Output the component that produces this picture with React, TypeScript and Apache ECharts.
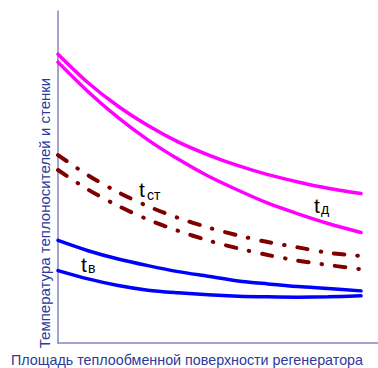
import React, { useEffect, useRef } from "react";
import * as echarts from "echarts";

const xs = [0, 9.4, 18.8, 28.1, 37.5, 46.9, 56.3, 65.6, 75, 84.4, 94.7];
const gasUpper = [87.0, 78.4, 71.3, 65.5, 60.6, 56.7, 53.4, 50.7, 48.5, 46.6, 45.0];
const gasLower = [84.6, 75.7, 67.9, 61.2, 55.4, 50.3, 46.0, 42.1, 38.9, 36.0, 33.3];
const wallUpper = [56.6, 50.5, 45.4, 41.2, 37.7, 34.8, 32.4, 30.4, 28.8, 27.2, 26.2];
const wallLower = [52.1, 46.2, 41.3, 37.2, 33.8, 30.9, 28.5, 26.5, 24.8, 23.5, 22.2];
const airUpper = [30.9, 27.8, 25.3, 23.3, 21.5, 20.1, 18.7, 17.8, 17.0, 16.4, 15.7];
const airLower = [21.8, 19.3, 17.3, 15.9, 15.1, 14.5, 14.1, 13.9, 13.8, 13.9, 14.2];

const xTitle = "Площадь теплообменной поверхности регенератора";
const yTitle = "Температура теплоносителей и стенки";

const pair = (x: number[], y: number[]) => x.map((v, i) => [v, y[i]]);
const FONT = "Arial, 'Liberation Sans', sans-serif";

export default function App() {
  const ref = useRef<HTMLDivElement>(null);
  useEffect(() => {
    const chart = echarts.init(ref.current!, null, { renderer: "svg" });
    const solid = (data: number[][], color: string) => ({
      type: "line",
      data,
      smooth: 0.3,
      symbol: "none",
      lineStyle: { color, width: 3.5, cap: "round" },
    });
    const dashdot = (data: number[][]) => ({
      type: "line",
      data,
      smooth: 0.3,
      symbol: "none",
      lineStyle: { color: "#800000", width: 4, type: [10.5, 13, 0.5, 13], cap: "round" },
    });
    const txt = (x: number, y: number, text: string, size: number) => ({
      type: "text",
      x,
      y,
      style: { text, font: `${size}px ${FONT}`, fill: "#000", align: "left", verticalAlign: "middle" },
    });
    chart.setOption({
      animation: false,
      grid: { left: 58, right: 0, top: 11, bottom: 25 },
      xAxis: {
        type: "value",
        min: 0,
        max: 100,
        axisLine: { lineStyle: { color: "#8585c2", width: 1.5 } },
        axisTick: { show: false },
        axisLabel: { show: false },
        splitLine: { show: false },
      },
      yAxis: {
        type: "value",
        min: 0,
        max: 100,
        axisLine: { show: true, lineStyle: { color: "#8585c2", width: 1.5 } },
        axisTick: { show: false },
        axisLabel: { show: false },
        splitLine: { show: false },
      },
      series: [
        solid(pair(xs, gasUpper), "#ff00ff"),
        solid(pair(xs, gasLower), "#ff00ff"),
        dashdot(pair(xs, wallUpper)),
        dashdot(pair(xs, wallLower)),
        solid(pair(xs, airUpper), "#0000ff"),
        solid(pair(xs, airLower), "#0000ff"),
      ],
      graphic: [
        {
          type: "text",
          x: 187,
          y: 360,
          style: {
            text: xTitle,
            font: `14.3px ${FONT}`,
            fill: "#2b3a9b",
            align: "center",
            verticalAlign: "middle",
          },
        },
        {
          type: "text",
          x: 44,
          y: 213,
          rotation: Math.PI / 2,
          style: {
            text: yTitle,
            font: `15px ${FONT}`,
            fill: "#2b3a9b",
            align: "center",
            verticalAlign: "middle",
          },
        },
        txt(139, 189.5, "t", 21),
        txt(147, 195, "ст", 14),
        txt(314, 205, "t", 21),
        txt(321, 208.5, "д", 14),
        txt(81, 264.5, "t", 21),
        txt(88, 267.5, "в", 14),
      ],
    });
    return () => chart.dispose();
  }, []);
  return <div ref={ref} style={{ width: 378, height: 368, position: "absolute", left: 0, top: 0 }} />;
}
